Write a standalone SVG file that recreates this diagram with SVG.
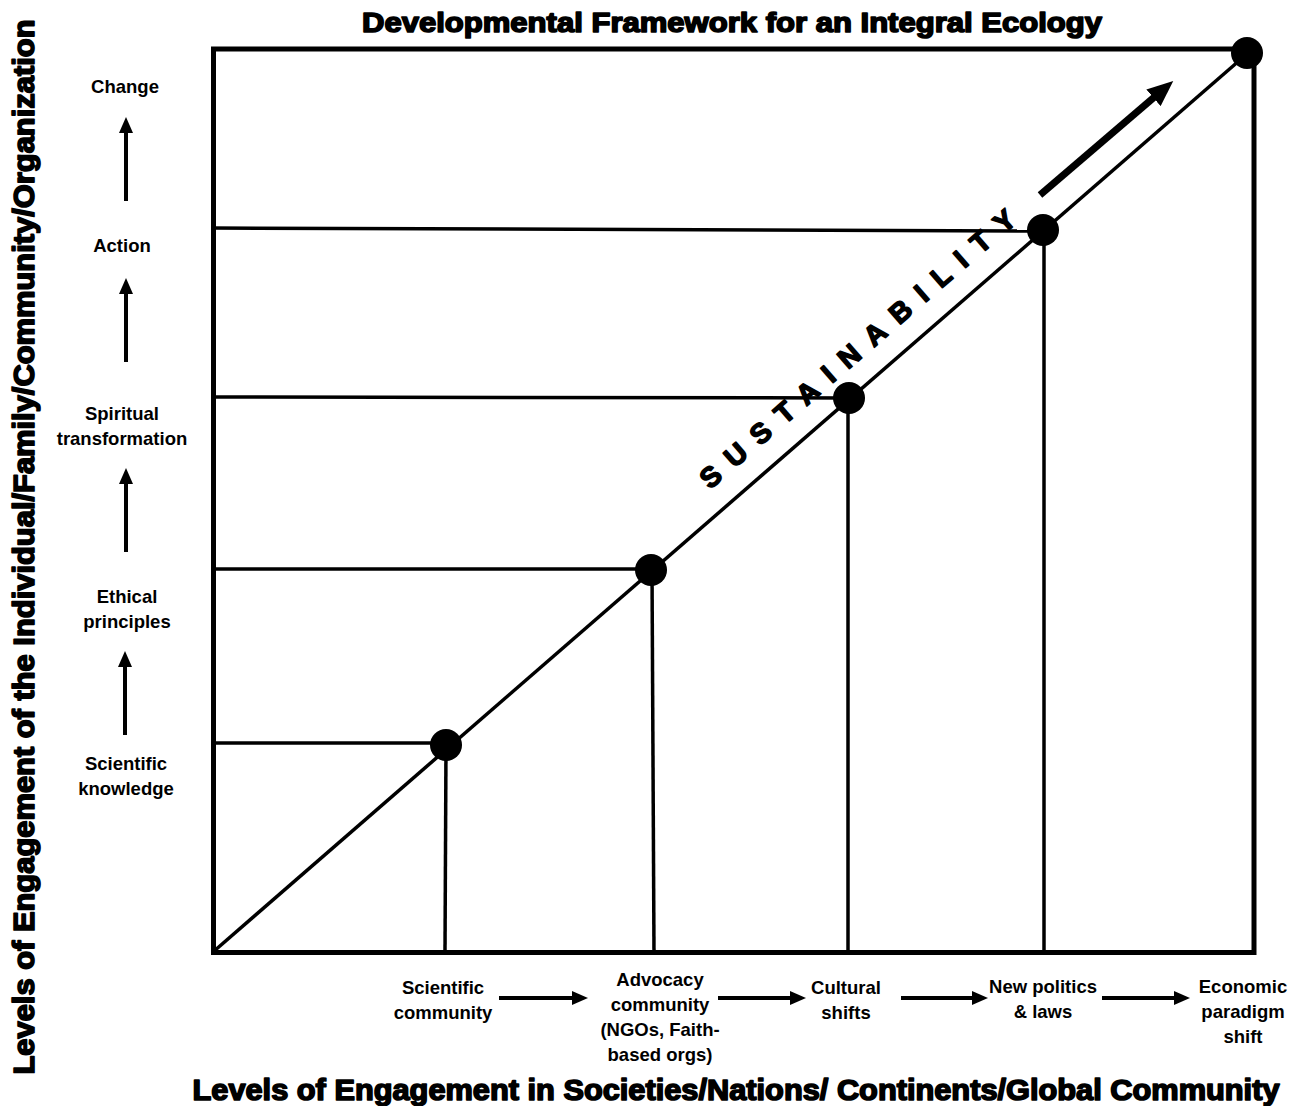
<svg xmlns="http://www.w3.org/2000/svg" width="1303" height="1106" viewBox="0 0 1303 1106">
  <style>
    .heavy { font-family: "Liberation Sans", Arial, sans-serif; font-weight: bold; fill: #000; stroke: #000; stroke-width: 1.6; stroke-linejoin: round; paint-order: stroke; }
    .lbl { font-family: "Liberation Sans", Arial, sans-serif; font-weight: bold; font-size: 18.5px; fill: #000; text-anchor: middle; }
    .frame { fill: none; stroke: #000; stroke-width: 5; }
    .grid { stroke: #000; stroke-width: 3.5; fill: none; }
    .arr { stroke: #000; stroke-width: 4; fill: none; }
    .dot { fill: #000; }
  </style>
  <defs>
    <marker id="head" markerUnits="userSpaceOnUse" markerWidth="16" markerHeight="14" refX="2" refY="7" orient="auto">
      <path d="M0,0 L16,7 L0,14 z" fill="#000"/>
    </marker>
    <marker id="bighead" markerUnits="userSpaceOnUse" markerWidth="26" markerHeight="22" refX="2" refY="11" orient="auto">
      <path d="M0,0 L26,11 L0,22 z" fill="#000"/>
    </marker>
  </defs>

  <rect width="1303" height="1106" fill="#fff"/>

  <g id="title">
    <text class="heavy" x="732" y="32" font-size="27" text-anchor="middle" textLength="740" lengthAdjust="spacingAndGlyphs">Developmental Framework for an Integral Ecology</text>
  </g>

  <g id="y-axis-title">
    <text class="heavy" font-size="29" text-anchor="middle" transform="translate(34,547) rotate(-90)" textLength="1055" lengthAdjust="spacingAndGlyphs">Levels of Engagement of the Individual/Family/Community/Organization</text>
  </g>

  <g id="x-axis-title">
    <text class="heavy" x="736" y="1100" font-size="29" text-anchor="middle" textLength="1087" lengthAdjust="spacingAndGlyphs">Levels of Engagement in Societies/Nations/ Continents/Global Community</text>
  </g>

  <g id="frame">
    <rect class="frame" x="213.5" y="49" width="1040.5" height="903.5"/>
  </g>

  <g id="connectors">
    <line class="grid" x1="213" y1="952" x2="1248" y2="53"/>
    <line class="grid" x1="213" y1="743" x2="446" y2="743"/>
    <line class="grid" x1="213" y1="569" x2="651" y2="569"/>
    <line class="grid" x1="213" y1="397" x2="849" y2="398"/>
    <line class="grid" x1="213" y1="228" x2="1043" y2="231"/>
    <line class="grid" x1="446" y1="745" x2="445" y2="952"/>
    <line class="grid" x1="652" y1="570" x2="654" y2="952"/>
    <line class="grid" x1="848" y1="398" x2="848" y2="952"/>
    <line class="grid" x1="1044" y1="230" x2="1044" y2="952"/>
    <line class="arr" x1="126" y1="201" x2="126" y2="131" marker-end="url(#head)"/>
    <line class="arr" x1="126" y1="362" x2="126" y2="292" marker-end="url(#head)"/>
    <line class="arr" x1="126" y1="552" x2="126" y2="482" marker-end="url(#head)"/>
    <line class="arr" x1="125" y1="735" x2="125" y2="665" marker-end="url(#head)"/>
    <line class="arr" x1="499" y1="998" x2="574" y2="998" marker-end="url(#head)"/>
    <line class="arr" x1="718" y1="998" x2="792" y2="998" marker-end="url(#head)"/>
    <line class="arr" x1="901" y1="998" x2="974" y2="998" marker-end="url(#head)"/>
    <line class="arr" x1="1102" y1="998" x2="1176" y2="998" marker-end="url(#head)"/>
    <line x1="1040" y1="195" x2="1155" y2="96.5" stroke="#000" stroke-width="7" marker-end="url(#bighead)"/>
  </g>

  <g id="dots">
    <circle class="dot" cx="446" cy="745" r="16"/>
    <circle class="dot" cx="651" cy="570" r="16"/>
    <circle class="dot" cx="849" cy="398" r="16"/>
    <circle class="dot" cx="1043" cy="230" r="16"/>
    <circle class="dot" cx="1247" cy="53" r="16"/>
  </g>

  <g id="sustainability">
    <text class="heavy" font-size="28" transform="translate(710,490) rotate(-41)" textLength="408" lengthAdjust="spacing" stroke-width="1.6">SUSTAINABILITY</text>
  </g>

  <g id="node-change"><text class="lbl" x="125" y="93">Change</text></g>
  <g id="node-action"><text class="lbl" x="122" y="252">Action</text></g>
  <g id="node-spiritual"><text class="lbl" x="122" y="420">Spiritual</text><text class="lbl" x="122" y="445">transformation</text></g>
  <g id="node-ethical"><text class="lbl" x="127" y="603">Ethical</text><text class="lbl" x="127" y="628">principles</text></g>
  <g id="node-knowledge"><text class="lbl" x="126" y="770">Scientific</text><text class="lbl" x="126" y="795">knowledge</text></g>

  <g id="node-scicommunity"><text class="lbl" x="443" y="994">Scientific</text><text class="lbl" x="443" y="1019">community</text></g>
  <g id="node-advocacy"><text class="lbl" x="660" y="986">Advocacy</text><text class="lbl" x="660" y="1011">community</text><text class="lbl" x="660" y="1036">(NGOs, Faith-</text><text class="lbl" x="660" y="1061">based orgs)</text></g>
  <g id="node-cultural"><text class="lbl" x="846" y="994">Cultural</text><text class="lbl" x="846" y="1019">shifts</text></g>
  <g id="node-politics"><text class="lbl" x="1043" y="993">New politics</text><text class="lbl" x="1043" y="1018">&amp; laws</text></g>
  <g id="node-economic"><text class="lbl" x="1243" y="993">Economic</text><text class="lbl" x="1243" y="1018">paradigm</text><text class="lbl" x="1243" y="1043">shift</text></g>
</svg>
